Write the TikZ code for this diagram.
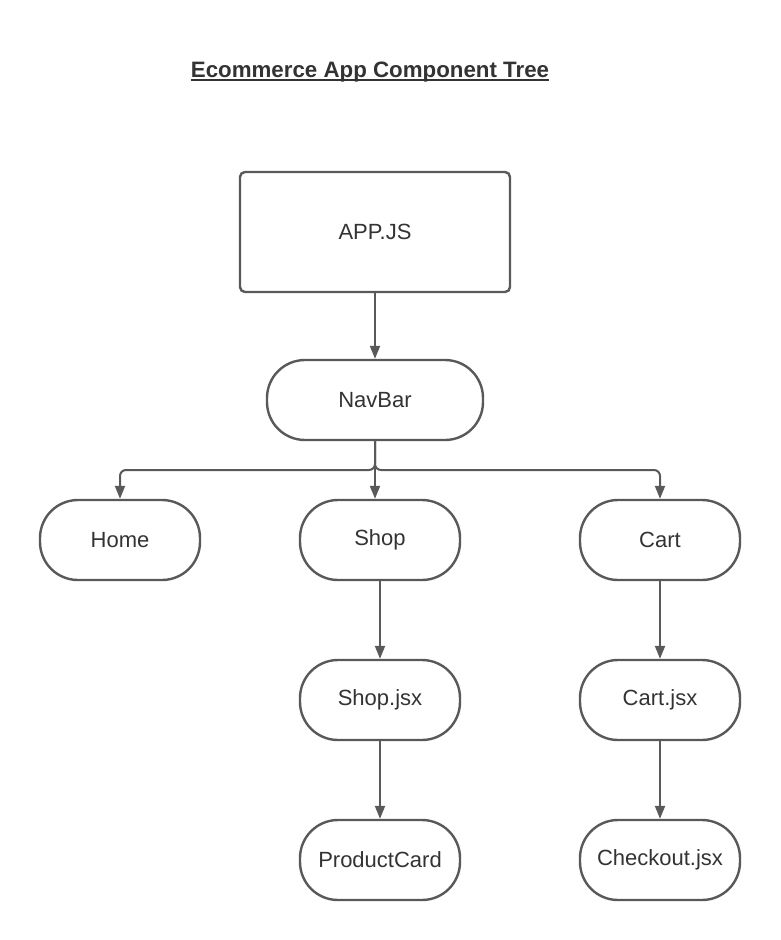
\documentclass[tikz,border=0pt]{standalone}
\usepackage{fontspec}
\setmainfont{Liberation Sans}
\usetikzlibrary{arrows.meta,positioning}

\definecolor{linegray}{HTML}{595959}
\definecolor{textgray}{HTML}{333333}

\tikzset{
    comp/.style={draw=linegray, line width=2.4pt, text=textgray,
        minimum width=160pt, minimum height=80pt, rounded corners=38pt,
        font=\fontsize{22}{26}\selectfont},
    rootbox/.style={comp, minimum width=270pt, minimum height=120pt, rounded corners=5pt},
    link/.style={draw=linegray, line width=2pt,
        -{Triangle[length=13pt,width=10pt]}}
}

\begin{document}
\begin{tikzpicture}[x=1pt, y=-1pt]
    \useasboundingbox (0, 0) rectangle (780, 940);
    \node[text=textgray, inner sep=0pt, anchor=base,
        font=\fontsize{22.3}{26}\selectfont\bfseries] (title) at (370, 77)
        {Ecommerce App Component Tree};
    \draw[textgray, line width=2pt] ([yshift=-3pt]title.base west) -- ([yshift=-3pt]title.base east);

    \node[rootbox] (app) at (375, 232) {APP.JS};
    \node[comp, minimum width=216pt] (navbar) at (375, 400) {NavBar};
    \node[comp] (home) at (120, 540) {Home};
    \node[comp] (shop) at (380, 540) {Shop};
    \node[comp] (cart) at (660, 540) {Cart};
    \node[comp] (shopjsx) at (380, 700) {Shop.jsx};
    \node[comp] (productcard) at (380, 860) {ProductCard};
    \node[comp] (cartjsx) at (660, 700) {Cart.jsx};
    \node[comp] (checkout) at (660, 860) {Checkout.jsx};

    \coordinate (split) at (375, 470);

    \draw[link] (app) -- (navbar);
    \draw[link, rounded corners=6pt] (navbar.south) -- (split) -| (home.north);
    \draw[link, rounded corners=6pt] (navbar.south) -- (split) -| (cart.north);
    \draw[link] (navbar.south) -- (navbar.south |- shop.north);
    \draw[link] (shop) -- (shopjsx);
    \draw[link] (shopjsx) -- (productcard);
    \draw[link] (cart) -- (cartjsx);
    \draw[link] (cartjsx) -- (checkout);
\end{tikzpicture}
\end{document}
